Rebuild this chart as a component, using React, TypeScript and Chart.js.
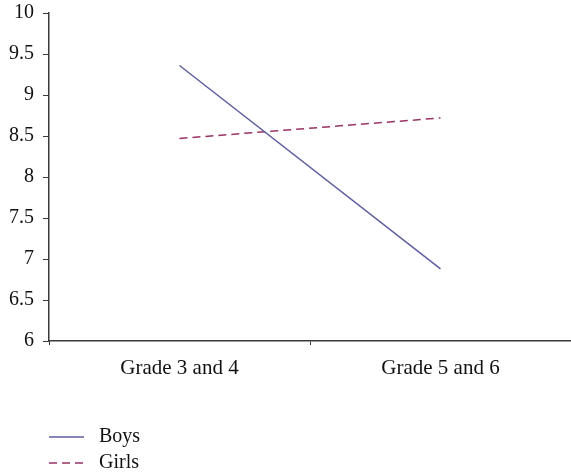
import React, { useEffect, useRef } from "react";
import { Chart, registerables } from "chart.js";

Chart.register(...registerables);

const categories = ["Grade 3 and 4", "Grade 5 and 6"];
const boys = [9.36, 6.88];
const girls = [8.47, 8.72];
const seriesNames = ["Boys", "Girls"];
const yTicks = [6, 6.5, 7, 7.5, 8, 8.5, 9, 9.5, 10];

const FONT = "'Liberation Serif', 'DejaVu Serif', serif";
const AXIS = "#3a3a3a";

const legendPlugin = {
  id: "stackLegend",
  afterDraw(chart: any) {
    const ctx = chart.ctx;
    const left = chart.chartArea.left;
    const startY = 437;
    const rowH = 26;
    chart.data.datasets.forEach((ds: any, i: number) => {
      const y = startY + i * rowH;
      ctx.save();
      ctx.strokeStyle = ds.borderColor;
      ctx.lineWidth = ds.borderWidth;
      ctx.setLineDash(ds.borderDash || []);
      ctx.beginPath();
      ctx.moveTo(left, y);
      ctx.lineTo(left + 35, y);
      ctx.stroke();
      ctx.setLineDash([]);
      ctx.fillStyle = "#111";
      ctx.font = `20px ${FONT}`;
      ctx.textBaseline = "middle";
      ctx.fillText(ds.label, left + 50, y);
      ctx.restore();
    });
  },
};

export default function App() {
  const ref = useRef<HTMLCanvasElement>(null);
  useEffect(() => {
    document.body.style.margin = "0";
    const chart = new Chart(ref.current!, {
      type: "line",
      data: {
        labels: categories,
        datasets: [
          {
            label: seriesNames[0],
            data: boys,
            borderColor: "#5f5f9f",
            borderWidth: 1.5,
            pointRadius: 0,
            fill: false,
          },
          {
            label: seriesNames[1],
            data: girls,
            borderColor: "#993366",
            borderWidth: 1.5,
            borderDash: [8, 5],
            pointRadius: 0,
            fill: false,
          },
        ],
      },
      options: {
        animation: false,
        responsive: false,
        maintainAspectRatio: false,
        layout: { padding: { top: 13, left: 0, right: 0, bottom: 0 } },
        plugins: { legend: { display: false }, tooltip: { enabled: false } },
        scales: {
          x: {
            offset: true,
            grid: {
              offset: true,
              drawOnChartArea: false,
              drawTicks: true,
              tickLength: 4,
              color: AXIS,
            },
            border: { color: AXIS, width: 1.5 },
            ticks: {
              color: "#111",
              font: { family: FONT, size: 21 },
              padding: 11,
              maxRotation: 0,
            },
            afterFit: (s: any) => {
              s.height = 134;
              s.paddingLeft = 0;
              s.paddingRight = 0;
            },
          },
          y: {
            min: 6,
            max: 10,
            afterBuildTicks: (s: any) => {
              s.ticks = yTicks.map((v) => ({ value: v }));
            },
            grid: {
              drawOnChartArea: false,
              drawTicks: true,
              tickLength: 6,
              color: AXIS,
            },
            border: { color: AXIS, width: 1.5 },
            ticks: {
              color: "#111",
              font: { family: FONT, size: 20 },
              padding: 9,
              callback: (v: any) => String(v),
            },
            afterFit: (s: any) => {
              s.width = 49;
              s.paddingTop = 0;
              s.paddingBottom = 0;
            },
          },
        },
      },
      plugins: [legendPlugin],
    });
    return () => chart.destroy();
  }, []);
  return <canvas ref={ref} width={571} height={475} style={{ display: "block" }} />;
}
